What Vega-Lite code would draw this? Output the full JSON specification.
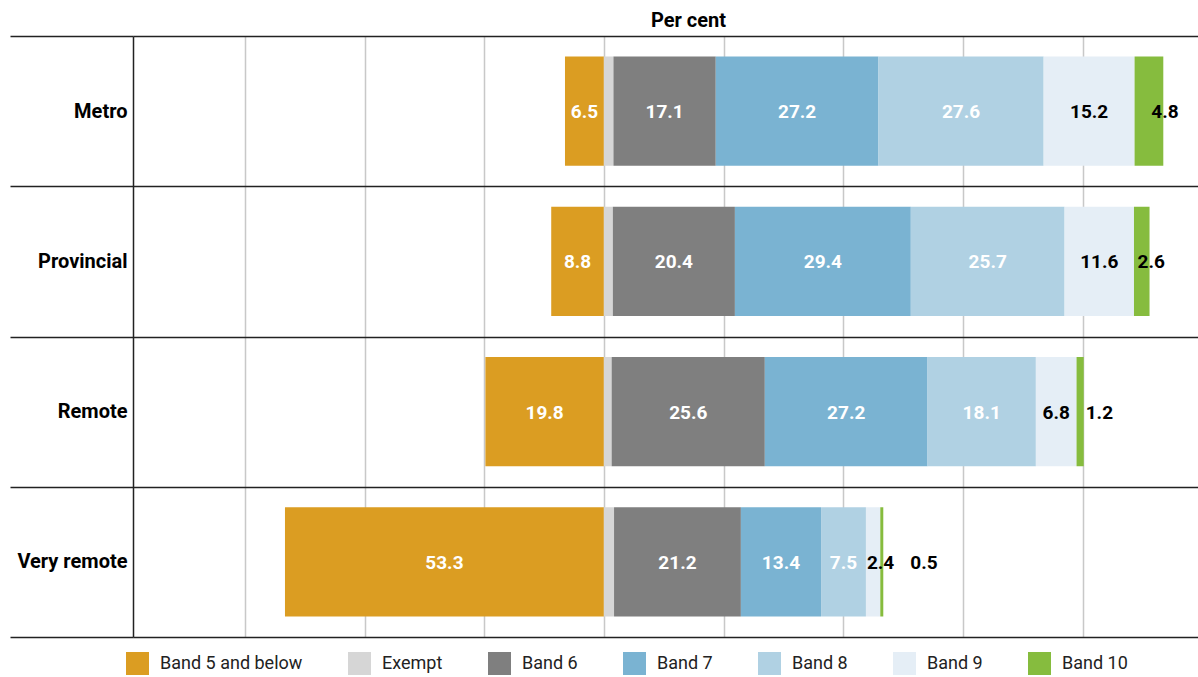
{
  "$schema": "https://vega.github.io/schema/vega-lite/v6.json",
  "autosize": "none",
  "width": 1065,
  "height": 601,
  "padding": {"left": 133, "top": 36, "right": 0, "bottom": 40},
  "background": "white",
  "config": {
    "view": {"stroke": null},
    "font": "Roboto"
  },
  "data": {
    "values": [
      {"region": "Metro", "band": "Band 5 and below", "value": 6.5},
      {"region": "Metro", "band": "Exempt", "value": 1.6},
      {"region": "Metro", "band": "Band 6", "value": 17.1},
      {"region": "Metro", "band": "Band 7", "value": 27.2},
      {"region": "Metro", "band": "Band 8", "value": 27.6},
      {"region": "Metro", "band": "Band 9", "value": 15.2},
      {"region": "Metro", "band": "Band 10", "value": 4.8},
      {"region": "Provincial", "band": "Band 5 and below", "value": 8.8},
      {"region": "Provincial", "band": "Exempt", "value": 1.5},
      {"region": "Provincial", "band": "Band 6", "value": 20.4},
      {"region": "Provincial", "band": "Band 7", "value": 29.4},
      {"region": "Provincial", "band": "Band 8", "value": 25.7},
      {"region": "Provincial", "band": "Band 9", "value": 11.6},
      {"region": "Provincial", "band": "Band 10", "value": 2.6},
      {"region": "Remote", "band": "Band 5 and below", "value": 19.8},
      {"region": "Remote", "band": "Exempt", "value": 1.3},
      {"region": "Remote", "band": "Band 6", "value": 25.6},
      {"region": "Remote", "band": "Band 7", "value": 27.2},
      {"region": "Remote", "band": "Band 8", "value": 18.1},
      {"region": "Remote", "band": "Band 9", "value": 6.8},
      {"region": "Remote", "band": "Band 10", "value": 1.2},
      {"region": "Very remote", "band": "Band 5 and below", "value": 53.3},
      {"region": "Very remote", "band": "Exempt", "value": 1.7},
      {"region": "Very remote", "band": "Band 6", "value": 21.2},
      {"region": "Very remote", "band": "Band 7", "value": 13.4},
      {"region": "Very remote", "band": "Band 8", "value": 7.5},
      {"region": "Very remote", "band": "Band 9", "value": 2.4},
      {"region": "Very remote", "band": "Band 10", "value": 0.5}
    ]
  },
  "transform": [
    {"calculate": "datum.band === 'Band 5 and below' ? -datum.value : datum.value", "as": "signed"},
    {"calculate": "indexof(['Band 5 and below','Exempt','Band 6','Band 7','Band 8','Band 9','Band 10'], datum.band)", "as": "ord"},
    {"stack": "signed", "groupby": ["region"], "sort": [{"field": "ord", "order": "ascending"}], "as": ["x0", "x1"], "offset": "zero"},
    {"calculate": "(datum.x0 + datum.x1) / 2", "as": "mid"}
  ],
  "encoding": {
    "y": {
      "field": "region",
      "type": "nominal",
      "sort": ["Metro", "Provincial", "Remote", "Very remote"],
      "scale": {"paddingInner": 0, "paddingOuter": 0},
      "axis": {
        "title": null,
        "tickBand": "extent",
        "ticks": true,
        "tickSize": 123,
        "tickColor": "#222222",
        "tickWidth": 1.5,
        "grid": true,
        "gridColor": "#222222",
        "gridWidth": 1.5,
        "domainColor": "#222222",
        "domainWidth": 1.5,
        "labelPadding": -117,
        "labelFont": "Roboto",
        "labelFontWeight": "bold",
        "labelFontSize": 20,
        "labelColor": "#000000"
      }
    }
  },
  "layer": [
    {
      "mark": {"type": "bar", "height": {"band": 0.727}},
      "encoding": {
        "x": {
          "field": "x0",
          "type": "quantitative",
          "scale": {"domain": [-78.7, 99.3], "nice": false, "zero": false},
          "axis": {
            "orient": "top",
            "title": "Per cent",
            "titleFont": "Roboto",
            "titleFontWeight": "bold",
            "titleFontSize": 20,
            "titleColor": "#000000",
            "titleX": 555,
            "titleY": -16,
            "titleBaseline": "middle",
            "titleAnchor": "middle",
            "titleAlign": "center",
            "labels": false,
            "ticks": false,
            "domain": false,
            "grid": true,
            "gridColor": "#C8C8C8",
            "gridWidth": 1.5,
            "values": [-60, -40, -20, 0, 20, 40, 60, 80]
          }
        },
        "x2": {"field": "x1"},
        "color": {
          "field": "band",
          "type": "nominal",
          "scale": {
            "domain": ["Band 5 and below", "Exempt", "Band 6", "Band 7", "Band 8", "Band 9", "Band 10"],
            "range": ["#DB9D22", "#D6D6D6", "#7F7F7F", "#7AB3D2", "#B0D1E3", "#E5EEF6", "#86BC3E"]
          },
          "legend": {
            "title": null,
            "orient": "none",
            "legendX": -7,
            "legendY": 616,
            "direction": "horizontal",
            "columns": 7,
            "symbolType": "square",
            "symbolSize": 529,
            "symbolStrokeWidth": 0,
            "labelFont": "Roboto",
            "labelFontSize": 18,
            "labelColor": "#222222",
            "labelOffset": 11,
            "columnPadding": 45,
            "padding": 0,
            "labelLimit": 220
          }
        }
      }
    },
    {
      "transform": [{"filter": "datum.band !== 'Exempt' && datum.band !== 'Band 10' && !(datum.band === 'Band 9' && datum.value < 3)"}],
      "mark": {"type": "text", "font": "Roboto", "fontWeight": "bold", "fontSize": 19, "align": "center", "baseline": "middle", "dy": 1},
      "encoding": {
        "x": {"field": "mid", "type": "quantitative"},
        "text": {"field": "value", "type": "quantitative", "format": ".1f"},
        "color": {"condition": {"test": "datum.band === 'Band 9'", "value": "#000000"}, "value": "#FFFFFF"}
      }
    },
    {
      "transform": [{"filter": "datum.band === 'Band 9' && datum.value < 3"}],
      "mark": {"type": "text", "font": "Roboto", "fontWeight": "bold", "fontSize": 19, "align": "left", "baseline": "middle", "dx": 1, "dy": 1, "color": "#000000"},
      "encoding": {
        "x": {"field": "x0", "type": "quantitative"},
        "text": {"field": "value", "type": "quantitative", "format": ".1f"}
      }
    },
    {
      "transform": [{"filter": "datum.band === 'Band 10' && datum.value >= 2"}],
      "mark": {"type": "text", "font": "Roboto", "fontWeight": "bold", "fontSize": 19, "align": "left", "baseline": "middle", "dx": -12, "dy": 1, "color": "#000000"},
      "encoding": {
        "x": {"field": "x1", "type": "quantitative"},
        "text": {"field": "value", "type": "quantitative", "format": ".1f"}
      }
    },
    {
      "transform": [{"filter": "datum.band === 'Band 10' && datum.value >= 1 && datum.value < 2"}],
      "mark": {"type": "text", "font": "Roboto", "fontWeight": "bold", "fontSize": 19, "align": "left", "baseline": "middle", "dx": 2, "dy": 1, "color": "#000000"},
      "encoding": {
        "x": {"field": "x1", "type": "quantitative"},
        "text": {"field": "value", "type": "quantitative", "format": ".1f"}
      }
    },
    {
      "transform": [{"filter": "datum.band === 'Band 10' && datum.value < 1"}],
      "mark": {"type": "text", "font": "Roboto", "fontWeight": "bold", "fontSize": 19, "align": "left", "baseline": "middle", "dx": 27, "dy": 1, "color": "#000000"},
      "encoding": {
        "x": {"field": "x1", "type": "quantitative"},
        "text": {"field": "value", "type": "quantitative", "format": ".1f"}
      }
    }
  ]
}
